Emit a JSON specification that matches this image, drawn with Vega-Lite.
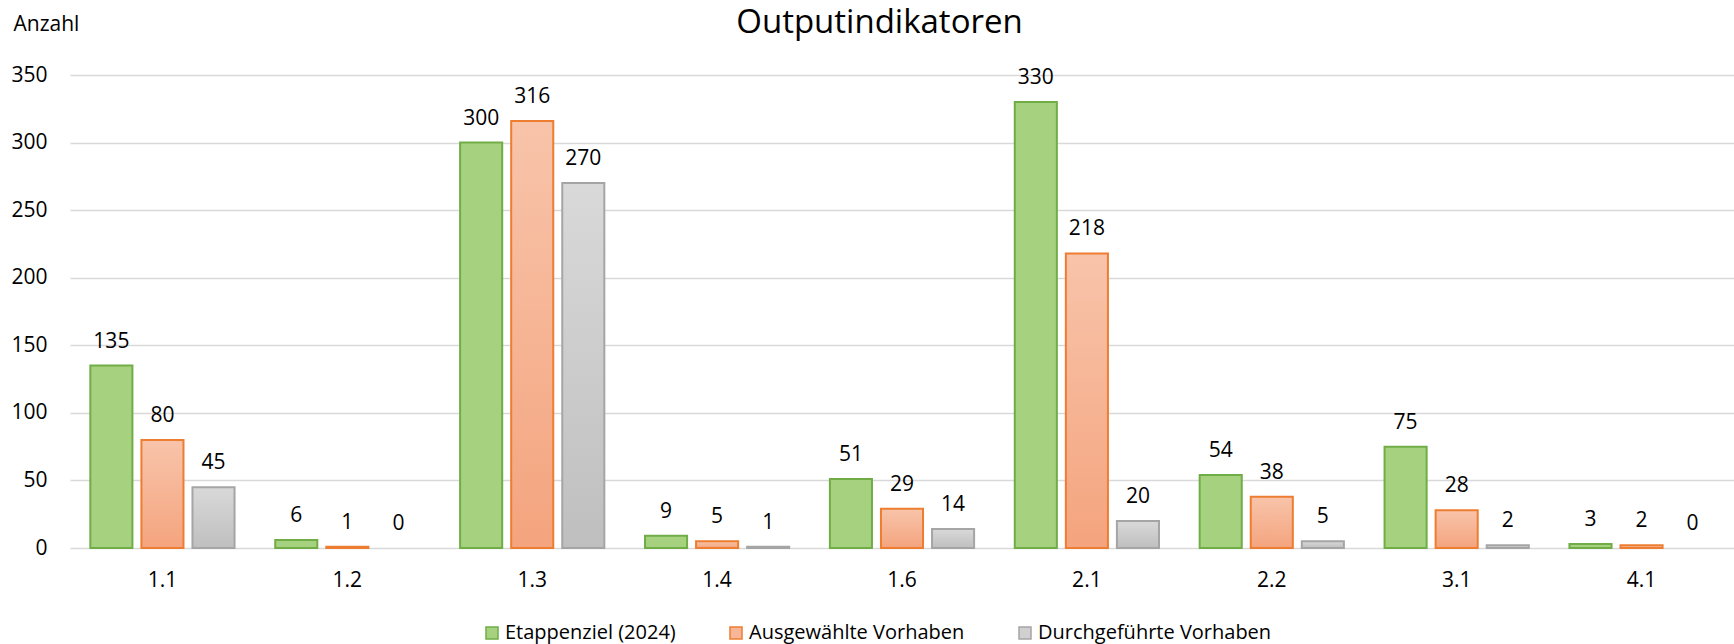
{
  "$schema": "https://vega.github.io/schema/vega-lite/v6.json",
  "width": 1664,
  "height": 473,
  "autosize": {"type": "none"},
  "padding": {"left": 70, "top": 75, "right": 0, "bottom": 96},
  "title": {
    "text": "Outputindikatoren",
    "frame": "bounds",
    "anchor": "middle",
    "fontSize": 33,
    "fontWeight": "normal",
    "font": "Open Sans",
    "color": "#000000",
    "baseline": "alphabetic",
    "offset": -53,
    "dx": 7
  },
  "config": {
    "view": {"stroke": null},
    "font": "Open Sans",
    "axis": {"labelFont": "Open Sans", "titleFont": "Open Sans", "labelColor": "#000000", "titleColor": "#000000"},
    "legend": {"labelFont": "Open Sans", "labelColor": "#000000", "labelLimit": 500}
  },
  "data": {
    "values": [
      {"cat": "1.1", "series": "Etappenziel (2024)", "value": 135},
      {"cat": "1.1", "series": "Ausgewählte Vorhaben", "value": 80},
      {"cat": "1.1", "series": "Durchgeführte Vorhaben", "value": 45},
      {"cat": "1.2", "series": "Etappenziel (2024)", "value": 6},
      {"cat": "1.2", "series": "Ausgewählte Vorhaben", "value": 1},
      {"cat": "1.2", "series": "Durchgeführte Vorhaben", "value": 0},
      {"cat": "1.3", "series": "Etappenziel (2024)", "value": 300},
      {"cat": "1.3", "series": "Ausgewählte Vorhaben", "value": 316},
      {"cat": "1.3", "series": "Durchgeführte Vorhaben", "value": 270},
      {"cat": "1.4", "series": "Etappenziel (2024)", "value": 9},
      {"cat": "1.4", "series": "Ausgewählte Vorhaben", "value": 5},
      {"cat": "1.4", "series": "Durchgeführte Vorhaben", "value": 1},
      {"cat": "1.6", "series": "Etappenziel (2024)", "value": 51},
      {"cat": "1.6", "series": "Ausgewählte Vorhaben", "value": 29},
      {"cat": "1.6", "series": "Durchgeführte Vorhaben", "value": 14},
      {"cat": "2.1", "series": "Etappenziel (2024)", "value": 330},
      {"cat": "2.1", "series": "Ausgewählte Vorhaben", "value": 218},
      {"cat": "2.1", "series": "Durchgeführte Vorhaben", "value": 20},
      {"cat": "2.2", "series": "Etappenziel (2024)", "value": 54},
      {"cat": "2.2", "series": "Ausgewählte Vorhaben", "value": 38},
      {"cat": "2.2", "series": "Durchgeführte Vorhaben", "value": 5},
      {"cat": "3.1", "series": "Etappenziel (2024)", "value": 75},
      {"cat": "3.1", "series": "Ausgewählte Vorhaben", "value": 28},
      {"cat": "3.1", "series": "Durchgeführte Vorhaben", "value": 2},
      {"cat": "4.1", "series": "Etappenziel (2024)", "value": 3},
      {"cat": "4.1", "series": "Ausgewählte Vorhaben", "value": 2},
      {"cat": "4.1", "series": "Durchgeführte Vorhaben", "value": 0}
    ]
  },
  "encoding": {
    "x": {
      "field": "cat",
      "type": "nominal",
      "sort": null,
      "scale": {"paddingInner": 0.22, "paddingOuter": 0.11},
      "axis": {
        "title": null,
        "labelAngle": 0,
        "labelFontSize": 21,
        "labelPadding": 21,
        "ticks": false,
        "domain": false
      }
    },
    "xOffset": {
      "field": "series",
      "type": "nominal",
      "scale": {
        "domain": ["Etappenziel (2024)", "Ausgewählte Vorhaben", "Durchgeführte Vorhaben"],
        "paddingInner": 0.176,
        "paddingOuter": 0
      }
    },
    "y": {
      "field": "value",
      "type": "quantitative",
      "scale": {"domain": [0, 350], "nice": false},
      "axis": {
        "values": [0, 50, 100, 150, 200, 250, 300, 350],
        "title": "Anzahl",
        "titleAngle": 0,
        "titleAlign": "left",
        "titleBaseline": "alphabetic",
        "titleX": -57,
        "titleY": -45,
        "titleFontSize": 21,
        "titleFontWeight": "normal",
        "labelFontSize": 21,
        "labelPadding": 23,
        "ticks": false,
        "domain": false,
        "grid": true,
        "gridColor": "#d9d9d9",
        "gridWidth": 1.5
      }
    }
  },
  "layer": [
    {
      "mark": {"type": "bar", "strokeWidth": 2},
      "encoding": {
        "strokeOpacity": {
          "condition": {"test": "datum.value === 0", "value": 0},
          "value": 1
        },
        "fill": {
          "field": "series",
          "type": "nominal",
          "scale": {
            "domain": ["Etappenziel (2024)", "Ausgewählte Vorhaben", "Durchgeführte Vorhaben"],
            "range": ["#a6d17f", "#f6b697", "#d0d0d0"]
          },
          "legend": {
            "title": null,
            "orient": "none",
            "legendX": 412,
            "legendY": 548,
            "direction": "horizontal",
            "symbolType": "square",
            "symbolSize": 144,
            "symbolStrokeWidth": 1.5,
            "labelFontSize": 20,
            "labelOffset": 3,
            "labelLimit": 500,
            "columnPadding": 50
          },
          "condition": [
            {
              "test": "datum.series === 'Ausgewählte Vorhaben'",
              "value": {
                "gradient": "linear", "x1": 0, "y1": 0, "x2": 0, "y2": 1,
                "stops": [{"offset": 0, "color": "#f8c4aa"}, {"offset": 1, "color": "#f4a47e"}]
              }
            },
            {
              "test": "datum.series === 'Durchgeführte Vorhaben'",
              "value": {
                "gradient": "linear", "x1": 0, "y1": 0, "x2": 0, "y2": 1,
                "stops": [{"offset": 0, "color": "#d9d9d9"}, {"offset": 1, "color": "#bfbfbf"}]
              }
            }
          ]
        },
        "stroke": {
          "field": "series",
          "type": "nominal",
          "scale": {
            "domain": ["Etappenziel (2024)", "Ausgewählte Vorhaben", "Durchgeführte Vorhaben"],
            "range": ["#70ad47", "#ed7d31", "#a5a5a5"]
          },
          "legend": {
            "title": null,
            "orient": "none",
            "legendX": 412,
            "legendY": 548,
            "direction": "horizontal",
            "symbolType": "square",
            "symbolSize": 144,
            "symbolStrokeWidth": 1.5,
            "labelFontSize": 20,
            "labelOffset": 3,
            "labelLimit": 500,
            "columnPadding": 50
          }
        }
      }
    },
    {
      "mark": {"type": "text", "baseline": "alphabetic", "dy": -18, "fontSize": 21, "color": "#000000"},
      "encoding": {
        "text": {"field": "value", "type": "quantitative"}
      }
    }
  ]
}
